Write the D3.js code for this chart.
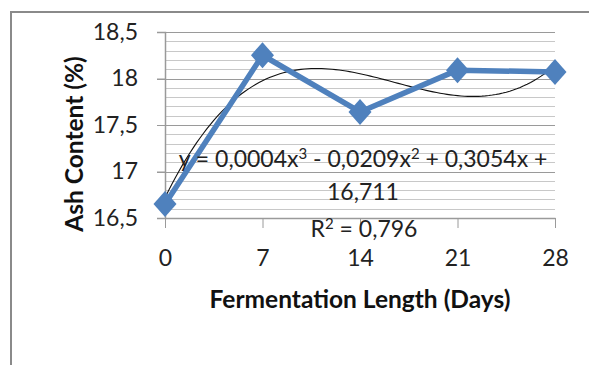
<!DOCTYPE html>
<html><head><meta charset="utf-8">
<script src="https://cdn.jsdelivr.net/npm/d3@7"></script>
<style>body{margin:0;background:#fff}svg{display:block}</style>
</head><body>
<svg id="c" width="589" height="365"></svg>
<script>
const days = [0, 7, 14, 21, 28];
const ash = [16.65, 18.25, 17.64, 18.09, 18.07];
const xTicks = [0, 7, 14, 21, 28];
const yTicks = [16.5, 17, 17.5, 18, 18.5];
const yTickLabels = ["16,5", "17", "17,5", "18", "18,5"];
const eqLines = ["y = 0,0004x³ - 0,0209x² + 0,3054x +", "16,711"];
const r2Label = "R² = 0,796";
const xTitle = "Fermentation Length (Days)";
const yTitle = "Ash Content (%)";

const svg = d3.select("#c");
const font = "Lato, 'Open Sans', sans-serif";
const x = d3.scaleLinear().domain([0, 28]).range([165, 555]);
const y = d3.scaleLinear().domain([16.5, 18.5]).range([218, 32]);

// outer frame (partial)
svg.append("path").attr("d", "M11,365 V12 H589").attr("fill", "none").attr("stroke", "#8a8a8a").attr("stroke-width", 2);

// gridlines
const minor = d3.range(16.6, 18.5, 0.1).map(v => +v.toFixed(1));
svg.append("g").selectAll("line").data(minor).join("line")
  .attr("x1", 165).attr("x2", 555).attr("y1", d => Math.round(y(d)) + 0.5).attr("y2", d => Math.round(y(d)) + 0.5)
  .attr("stroke", "#c8c8c8").attr("stroke-width", 1);
svg.append("g").selectAll("line").data(yTicks.slice(1)).join("line")
  .attr("x1", 157).attr("x2", 555).attr("y1", d => Math.round(y(d)) + 0.5).attr("y2", d => Math.round(y(d)) + 0.5)
  .attr("stroke", "#9a9a9a").attr("stroke-width", 1.2);

// axes
const yAxis = svg.append("g").attr("transform", "translate(165,0)")
  .call(d3.axisLeft(y).tickValues(yTicks).tickSize(8).tickFormat((d, i) => yTickLabels[i]));
yAxis.select(".domain").attr("stroke", "#9a9a9a").attr("stroke-width", 1.5);
yAxis.selectAll(".tick line").attr("stroke", "#9a9a9a");
yAxis.selectAll("text").attr("font-family", font).attr("font-size", 23).attr("fill", "#222").attr("x", -27);

const xAxis = svg.append("g").attr("transform", "translate(0,218)")
  .call(d3.axisBottom(x).tickValues(xTicks).tickSize(10).tickSizeOuter(0));
xAxis.select(".domain").attr("stroke", "#9a9a9a").attr("stroke-width", 1.5);
xAxis.selectAll(".tick line").attr("stroke", "#9a9a9a");
xAxis.selectAll("text").attr("font-family", font).attr("font-size", 23).attr("fill", "#222").attr("y", 32);

// polynomial fit (cubic least squares)
function polyfit(xs, ys, deg) {
  const n = deg + 1;
  const A = Array.from({length: n}, () => new Array(n + 1).fill(0));
  for (let r = 0; r < n; r++) {
    for (let c = 0; c < n; c++) A[r][c] = d3.sum(xs, xv => Math.pow(xv, r + c));
    A[r][n] = d3.sum(xs.map((xv, i) => Math.pow(xv, r) * ys[i]));
  }
  for (let i = 0; i < n; i++) {
    let p = i;
    for (let k = i + 1; k < n; k++) if (Math.abs(A[k][i]) > Math.abs(A[p][i])) p = k;
    [A[i], A[p]] = [A[p], A[i]];
    for (let k = 0; k < n; k++) if (k !== i) {
      const f = A[k][i] / A[i][i];
      for (let j = i; j <= n; j++) A[k][j] -= f * A[i][j];
    }
  }
  return A.map((row, i) => row[n] / row[i]);
}
const coef = polyfit(days, ash, 3);
const fit = xv => coef.reduce((s, c, i) => s + c * Math.pow(xv, i), 0);
const trend = d3.range(0, 28.01, 0.25).map(xv => [xv, fit(xv)]);
svg.append("path").datum(trend)
  .attr("d", d3.line().x(d => x(d[0])).y(d => y(d[1])))
  .attr("fill", "none").attr("stroke", "#111").attr("stroke-width", 1.1);

// data line
const pts = days.map((d, i) => [d, ash[i]]);
svg.append("path").datum(pts)
  .attr("d", d3.line().x(d => x(d[0])).y(d => y(d[1])))
  .attr("fill", "none").attr("stroke", "#4f81bd").attr("stroke-width", 5.5).attr("stroke-linejoin", "round");
svg.append("g").selectAll("path").data(pts).join("path")
  .attr("transform", d => `translate(${x(d[0])},${y(d[1])})`)
  .attr("d", "M0,-13 L11.5,0 L0,13 L-11.5,0 Z").attr("fill", "#4f81bd");

// equation label with real superscripts
const supMap = {"³": "3", "²": "2"};
function richText(sel, str) {
  const parts = str.split(/([³²])/).filter(s => s.length);
  let prevSup = false;
  parts.forEach(p => {
    if (supMap[p]) {
      sel.append("tspan").attr("font-size", 15).attr("dy", -8).text(supMap[p]);
      prevSup = true;
    } else {
      sel.append("tspan").attr("dy", prevSup ? 8 : 0).text(p);
      prevSup = false;
    }
  });
}
const eq = svg.append("g").attr("font-family", font).attr("font-size", 23).attr("fill", "#222").attr("text-anchor", "middle");
richText(eq.append("text").attr("x", 363).attr("y", 167), eqLines[0]);
eq.append("text").attr("x", 363).attr("y", 200).text(eqLines[1]);
richText(eq.append("text").attr("x", 364).attr("y", 237), r2Label);

// titles
svg.append("text").attr("x", 360).attr("y", 308).attr("text-anchor", "middle")
  .attr("font-family", font).attr("font-size", 24.5).attr("font-weight", "bold").attr("fill", "#111").text(xTitle);
svg.append("text").attr("transform", "translate(83,144) rotate(-90)").attr("text-anchor", "middle")
  .attr("font-family", font).attr("font-size", 24.5).attr("font-weight", "bold").attr("fill", "#111").text(yTitle);
</script>
</body></html>
